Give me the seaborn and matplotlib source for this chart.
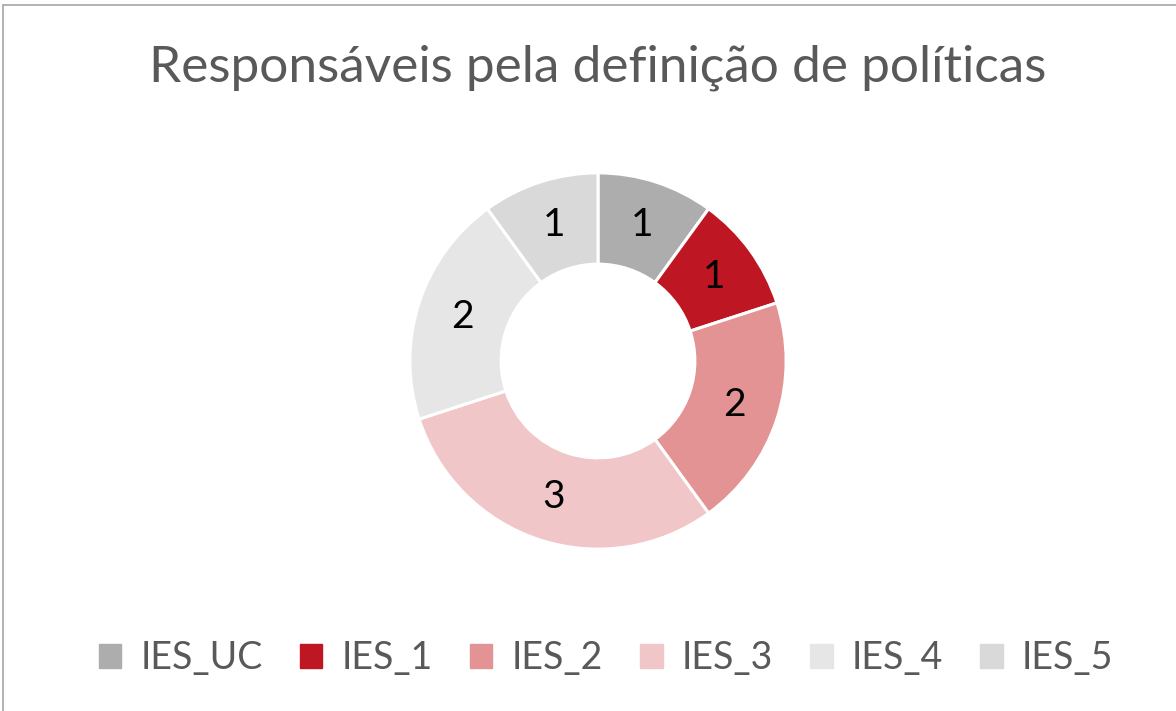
import matplotlib
matplotlib.use('Agg')

import matplotlib.pyplot as plt
import matplotlib.patches as mpatches
import seaborn as sns

# ================= DATA =================

labels = ['IES_UC', 'IES_1', 'IES_2', 'IES_3', 'IES_4', 'IES_5']
values = [1, 1, 2, 3, 2, 1]
hex_colors = ['#ADADAD', '#BE1622', '#E39393', '#F0C6C8', '#E6E6E6', '#D9D9D9']

title = 'Responsáveis pela definição de políticas'

# ================= STYLE =================

sns.set_theme(style='white')
plt.rcParams['font.family'] = ['Lato', 'DejaVu Sans']

TEXT = '#595959'
palette = sns.color_palette(hex_colors)

fig = plt.figure(figsize=(11.76, 7.11), dpi=100)

# frame of the chart area (only top and left edges are visible)
fig.add_artist(plt.Line2D([3 / 1176, 3 / 1176], [0, 1 - 5 / 711],
                          color='#A6A6A6', lw=1.2))
fig.add_artist(plt.Line2D([3 / 1176, 1], [1 - 5 / 711, 1 - 5 / 711],
                          color='#A6A6A6', lw=1.2))

# ================= DONUT =================

cx, cy, r = 598, 361, 190
ax = fig.add_axes([(cx - r) / 1176, (711 - cy - r) / 711, 2 * r / 1176, 2 * r / 711])

wedges, _, autotexts = ax.pie(
    values,
    colors=palette,
    startangle=90,
    counterclock=False,
    radius=1,
    autopct=lambda p: f'{round(p * sum(values) / 100):d}',
    pctdistance=0.76,
    wedgeprops=dict(width=0.485, edgecolor='white', linewidth=2.2),
    textprops=dict(fontsize=28, color='black')
)

ax.set_xlim(-1.01, 1.01)
ax.set_ylim(-1.01, 1.01)
ax.set_aspect('equal')
ax.axis('off')

# ================= TITLE =================

fig.text(598 / 1176, 1 - 68 / 711, title, ha='center', va='center',
         fontsize=37, color=TEXT)

# ================= LEGEND =================

handles = [mpatches.Patch(color=c, label=l) for c, l in zip(palette, labels)]

fig.legend(
    handles=handles,
    loc='center',
    bbox_to_anchor=(606 / 1176, 1 - 658 / 711),
    ncol=6,
    frameon=False,
    fontsize=27,
    labelcolor=TEXT,
    handlelength=0.6,
    handleheight=0.6,
    handletextpad=0.5,
    columnspacing=1.0
)

plt.savefig('out.png', dpi=100)
plt.close()
